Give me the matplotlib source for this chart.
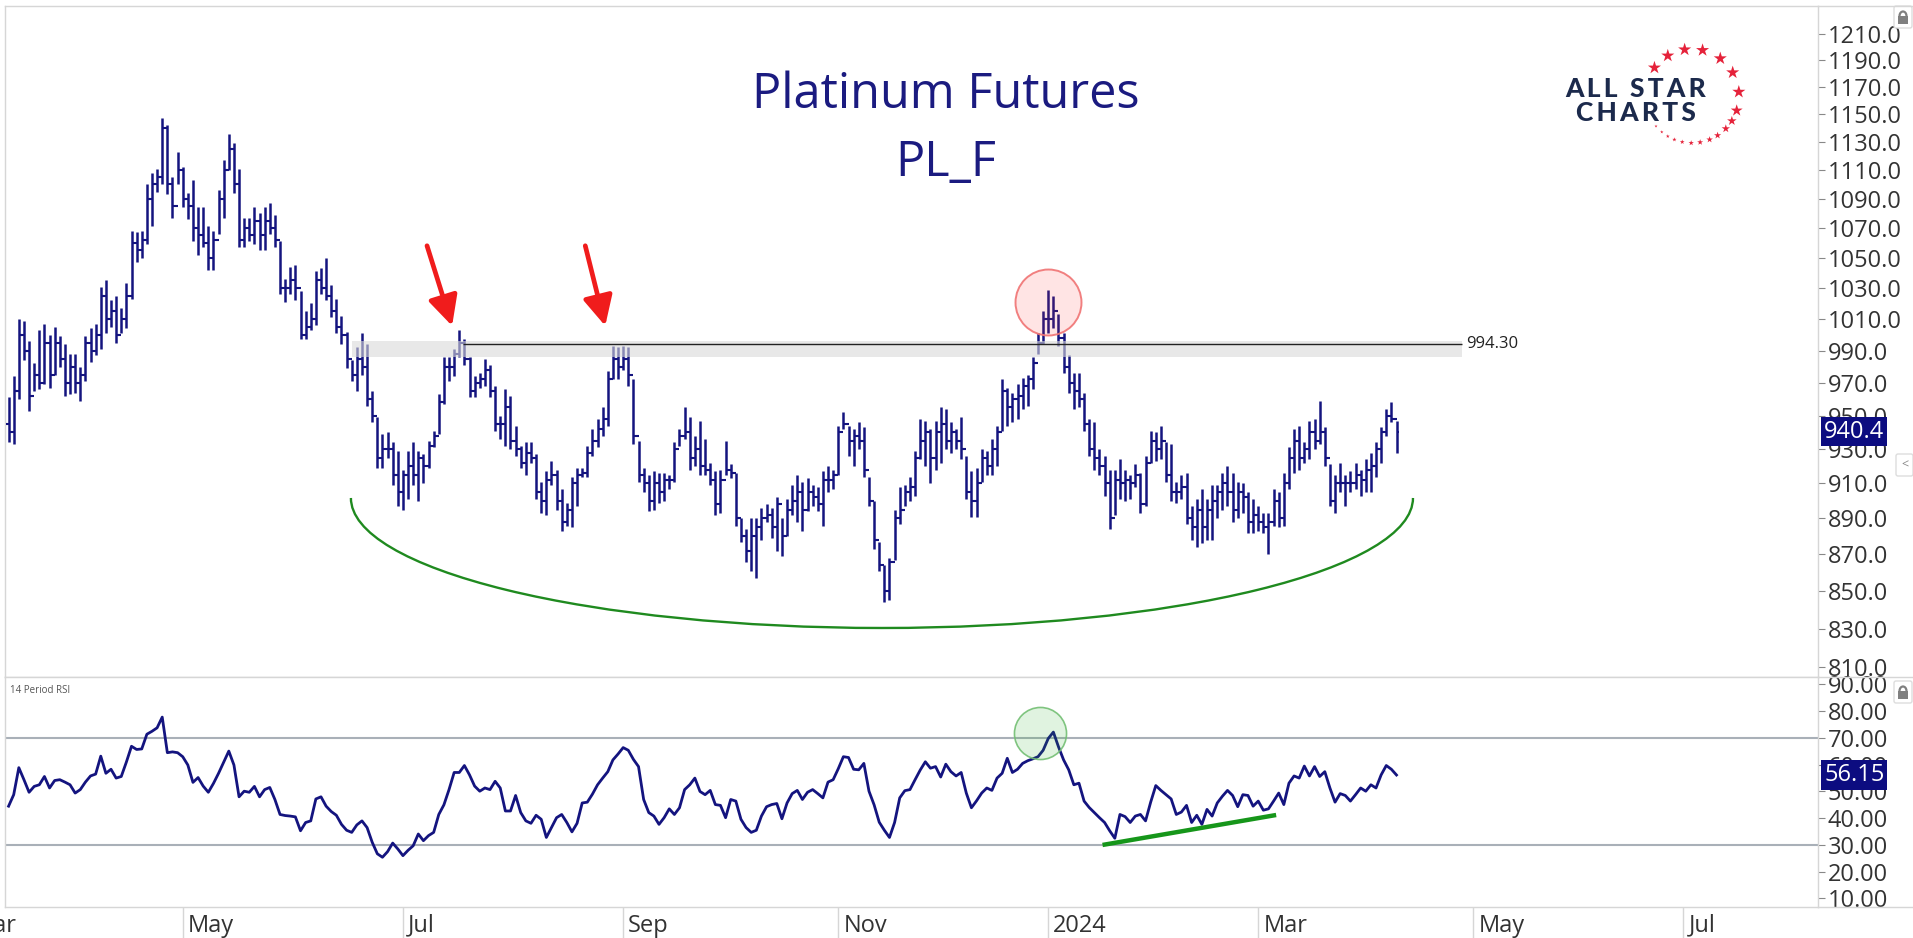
import numpy as np
import pandas as pd
import matplotlib
matplotlib.use('Agg')
import matplotlib.pyplot as plt
from matplotlib import ticker, patches, transforms

# daily bars (first bar 2023-03-13, last 2024-04-08)
high = [961, 974, 1010, 1009, 996, 982, 1003, 1007, 1000, 1005,
        999, 994, 988, 988, 980, 999, 1004, 1007, 1031, 1035,
        1022, 1025, 1017, 1033, 1068, 1067, 1068, 1100, 1108, 1111,
        1147, 1142, 1105, 1123, 1112, 1094, 1103, 1084, 1084, 1071,
        1068, 1096, 1117, 1136, 1129, 1111, 1077, 1077, 1084, 1080,
        1084, 1087, 1079, 1061, 1036, 1044, 1045, 1028, 1015, 1020,
        1041, 1043, 1050, 1032, 1023, 1012, 1002, 984, 992, 1001,
        994, 965, 949, 939, 940, 934, 929, 918, 929, 934,
        929, 927, 935, 941, 963, 986, 986, 991, 1003, 997,
        986, 974, 976, 985, 981, 968, 950, 966, 962, 944,
        932, 934, 934, 927, 911, 917, 923, 918, 907, 899,
        914, 919, 919, 932, 942, 948, 955, 977, 993, 992,
        993, 992, 972, 935, 919, 915, 917, 916, 916, 915,
        934, 942, 955, 949, 938, 947, 936, 922, 917, 918,
        935, 921, 916, 890, 884, 890, 890, 896, 898, 896,
        902, 890, 901, 909, 915, 911, 913, 909, 908, 917,
        920, 918, 944, 952, 944, 942, 946, 943, 914, 900,
        877, 864, 868, 895, 908, 909, 914, 929, 948, 947,
        942, 947, 955, 954, 946, 942, 949, 926, 917, 919,
        930, 929, 936, 944, 972, 967, 964, 969, 973, 975,
        986, 1001, 1015, 1029, 1025, 1013, 1001, 987, 976, 976,
        964, 948, 946, 930, 926, 918, 918, 924, 918, 915,
        921, 916, 926, 941, 940, 944, 934, 933, 911, 915,
        916, 897, 901, 907, 901, 909, 909, 916, 920, 916,
        911, 910, 905, 901, 897, 893, 893, 907, 905, 916,
        931, 942, 944, 934, 947, 948, 959, 943, 921, 915,
        922, 915, 917, 922, 918, 924, 928, 934, 943, 954,
        958, 947]
low = [934, 933, 960, 984, 953, 965, 966, 969, 967, 975,
       980, 962, 963, 964, 959, 971, 983, 987, 991, 1001,
       1005, 995, 1001, 1004, 1023, 1047, 1050, 1059, 1071, 1095,
       1100, 1093, 1077, 1100, 1084, 1076, 1061, 1052, 1057, 1042,
       1042, 1066, 1077, 1110, 1094, 1057, 1057, 1061, 1059, 1055,
       1055, 1066, 1057, 1026, 1021, 1026, 1022, 997, 997, 1003,
       1006, 1026, 1022, 1011, 1001, 994, 979, 971, 965, 975,
       956, 946, 919, 919, 925, 909, 897, 895, 901, 909,
       900, 910, 919, 931, 939, 957, 971, 974, 986, 981,
       961, 961, 967, 968, 961, 941, 936, 932, 930, 926,
       919, 915, 922, 901, 893, 892, 909, 895, 883, 886,
       885, 897, 914, 914, 926, 931, 938, 944, 972, 972,
       978, 968, 933, 911, 905, 894, 895, 899, 900, 907,
       911, 932, 936, 918, 920, 915, 915, 909, 892, 893,
       915, 913, 886, 877, 866, 861, 857, 878, 888, 879,
       872, 869, 880, 892, 888, 883, 894, 897, 894, 886,
       905, 907, 915, 942, 926, 920, 930, 914, 897, 873,
       861, 844, 845, 867, 887, 897, 900, 903, 924, 920,
       910, 918, 922, 930, 928, 930, 924, 901, 891, 891,
       911, 915, 915, 920, 941, 944, 946, 948, 954, 956,
       966, 988, 994, 1001, 1004, 993, 976, 964, 954, 955,
       941, 926, 918, 915, 903, 884, 892, 901, 900, 901,
       908, 893, 897, 922, 923, 924, 911, 900, 899, 901,
       887, 878, 874, 876, 878, 878, 890, 895, 897, 888,
       890, 893, 882, 882, 883, 882, 870, 886, 885, 886,
       907, 916, 918, 922, 924, 930, 933, 920, 897, 893,
       905, 897, 905, 907, 903, 905, 905, 914, 922, 938,
       946, 928]
close = [940, 965, 1000, 990, 962, 975, 970, 995, 975, 995,
         985, 970, 980, 970, 975, 995, 990, 1000, 1025, 1010,
         1015, 1000, 1010, 1025, 1060, 1055, 1062, 1090, 1100, 1105,
         1140, 1100, 1085, 1110, 1090, 1085, 1070, 1065, 1060, 1050,
         1062, 1090, 1110, 1125, 1100, 1062, 1070, 1065, 1075, 1065,
         1075, 1070, 1062, 1030, 1030, 1035, 1030, 1000, 1005, 1010,
         1035, 1030, 1025, 1015, 1005, 1000, 985, 975, 985, 980,
         960, 950, 925, 930, 930, 915, 905, 915, 920, 915,
         925, 920, 932, 938, 958, 980, 980, 988, 995, 985,
         965, 970, 972, 978, 965, 945, 945, 955, 935, 930,
         922, 928, 925, 905, 900, 912, 915, 900, 888, 895,
         910, 915, 916, 928, 935, 942, 948, 972, 985, 980,
         985, 975, 938, 915, 910, 900, 910, 905, 912, 912,
         930, 938, 940, 925, 930, 920, 918, 912, 898, 912,
         918, 916, 890, 880, 872, 880, 885, 890, 892, 885,
         898, 880, 895, 900, 905, 895, 905, 902, 898, 912,
         912, 915, 940, 945, 935, 938, 935, 918, 900, 878,
         864, 850, 866, 890, 895, 905, 908, 925, 935, 940,
         925, 940, 945, 935, 940, 935, 930, 905, 900, 910,
         925, 920, 930, 940, 965, 955, 960, 962, 968, 972,
         982, 995, 1010, 1010, 1015, 998, 980, 970, 965, 960,
         945, 930, 925, 920, 910, 890, 912, 910, 912, 910,
         915, 898, 922, 935, 930, 935, 915, 905, 905, 908,
         890, 885, 895, 885, 895, 900, 905, 910, 905, 895,
         905, 902, 888, 892, 888, 885, 888, 900, 890, 910,
         925, 935, 925, 930, 940, 935, 940, 925, 900, 910,
         910, 910, 910, 915, 912, 918, 920, 930, 940, 950,
         948, 940.4]
first_open = 945

# 14 period RSI
rsi = [44.5, 48.8, 58.9, 54.4, 49.7, 51.9, 52.5, 55.6, 51.3, 54.1,
       54.4, 53.5, 52.5, 49.4, 50.7, 53.5, 55.8, 56.5, 63.2, 56.8,
       58.3, 55.0, 55.6, 61.0, 66.9, 65.7, 65.9, 71.4, 72.5, 73.8,
       77.8, 64.5, 64.8, 64.5, 63.0, 59.9, 53.4, 55.2, 52.0, 49.7,
       53.0, 56.8, 61.0, 65.1, 59.9, 48.0, 50.1, 49.7, 51.9, 48.0,
       50.7, 51.5, 47.0, 41.4, 41.0, 40.8, 40.5, 35.3, 38.4, 39.0,
       47.2, 48.0, 44.5, 42.5, 41.1, 37.7, 35.5, 34.7, 37.5, 39.0,
       36.5, 31.0, 26.7, 25.4, 27.5, 30.7, 28.5, 26.0, 28.0, 29.7,
       34.1, 31.6, 33.5, 34.7, 41.4, 45.0, 50.7, 57.1, 57.1, 59.7,
       56.2, 52.0, 50.1, 51.3, 50.7, 53.8, 51.3, 42.7, 42.7, 48.5,
       42.1, 39.0, 38.1, 41.1, 39.6, 32.8, 36.5, 40.2, 41.4, 38.4,
       34.9, 38.1, 45.7, 46.0, 49.0, 52.5, 55.0, 57.4, 61.8, 64.0,
       66.4, 65.4, 62.0, 59.3, 47.0, 42.1, 40.8, 37.7, 40.2, 43.5,
       41.4, 43.9, 50.7, 52.5, 55.0, 50.0, 48.8, 50.4, 45.1, 44.8,
       40.2, 47.0, 46.4, 39.6, 36.5, 34.7, 35.5, 40.8, 44.3, 45.1,
       45.5, 39.8, 45.7, 49.2, 50.4, 47.0, 49.7, 50.7, 49.2, 47.6,
       53.5, 54.4, 58.5, 63.0, 62.7, 58.3, 58.1, 60.5, 50.1, 45.0,
       38.5, 35.5, 32.8, 38.4, 47.6, 50.3, 50.7, 54.4, 58.0, 61.1,
       58.7, 59.3, 55.4, 60.2, 57.4, 55.8, 57.1, 49.4, 43.9, 46.5,
       49.4, 51.3, 50.4, 55.0, 56.8, 62.4, 57.1, 58.3, 60.5, 61.5,
       62.2, 63.0, 65.4, 69.8, 72.2, 66.7, 61.8, 58.1, 52.5, 53.1,
       46.4, 44.0, 42.1, 40.2, 38.4, 35.3, 32.5, 41.4, 40.6, 38.4,
       40.8, 41.4, 39.0, 46.0, 52.2, 50.4, 48.8, 47.2, 41.4, 42.3,
       44.8, 38.4, 41.1, 37.7, 43.3, 40.8, 45.7, 48.2, 50.4, 48.5,
       44.3, 48.8, 48.5, 44.5, 46.4, 43.0, 43.5, 46.4, 49.4, 45.1,
       53.1, 55.8, 55.0, 59.5, 55.8, 59.3, 55.6, 57.4, 51.3, 46.0,
       49.2, 48.5, 46.4, 48.8, 51.3, 50.1, 52.5, 51.3, 56.2, 59.7,
       58.3, 56.15]

# trading calendar (exchange holidays) for the date axis
first_day = '2023-03-13'
holidays = ['2023-04-07', '2023-05-29', '2023-06-19', '2023-07-04', '2023-09-04',
            '2023-11-23', '2023-12-25', '2024-01-01', '2024-01-15', '2024-02-19',
            '2024-03-29', '2024-05-27', '2024-06-19', '2024-07-04']

# annotations
resist_level = 994.30
band_lo, band_hi = 986.0, 995.7
band_x0, line_x0, band_x1 = 67.1, 88.7, 283.7
arrows = [((81.7, 1058.0), (86.6, 1005.6)), ((112.6, 1058.0), (116.5, 1005.6))]
top_circle = (203.0, 1020.8)
rsi_circle = (201.4, 71.9)
rsi_trend = ([213.6, 247.5], [30.0, 41.2])

NAVY = '#14147f'
GRID = '#d6d6d6'
TXT = '#333333'

plt.rcParams['font.family'] = ['Open Sans', 'DejaVu Sans']

W, H = 1913.0, 938.0
fig = plt.figure(figsize=(W / 100, H / 100), dpi=100)
fig.patch.set_facecolor('white')


def box(x0, y0, x1, y1):
    return [x0 / W, 1 - y1 / H, (x1 - x0) / W, (y1 - y0) / H]


ax = fig.add_axes(box(5, 6, 1818, 677))
ax2 = fig.add_axes(box(5, 677, 1818, 907), sharex=ax)

n = len(close)
x = np.arange(n)
opens = np.r_[first_open, close[:-1]]

#--------------------------------------------------------------------------
# price panel
#--------------------------------------------------------------------------
ax.vlines(x, low, high, color=NAVY, lw=1.8, zorder=3)
ax.hlines(opens, x - 0.55, x, color=NAVY, lw=1.5, zorder=3)
ax.hlines(close, x, x + 0.55, color=NAVY, lw=1.5, zorder=3)

ax.set_yscale('log')
ax.set_ylim(804.9, 1231.7)
ax.yaxis.set_major_locator(ticker.FixedLocator(np.arange(810, 1211, 20)))
ax.yaxis.set_major_formatter(ticker.FormatStrFormatter('%.1f'))
ax.yaxis.set_minor_locator(ticker.NullLocator())
ax.yaxis.tick_right()
ax.tick_params(axis='y', length=5, color='#888888', labelsize=17,
               labelcolor=TXT, pad=2)
ax.tick_params(axis='x', which='both', bottom=False, top=False,
               labelbottom=False)

# resistance band + line
ax.fill_between([band_x0, band_x1], band_lo, band_hi, color=(0.85, 0.85, 0.85),
                alpha=0.6, lw=0, zorder=4)
ax.hlines(resist_level, line_x0, band_x1, color='#222222', lw=1, zorder=5)
ax.text(band_x1 + 0.8, resist_level, '%.2f' % resist_level, fontsize=12,
        va='center', ha='left', color='#222222')

for tail, tip in arrows:
    ax.annotate('', xy=tip, xytext=tail,
                arrowprops=dict(arrowstyle='-|>,head_length=0.9,head_width=0.45',
                                color='#f01c1c', lw=3.4, shrinkA=0, shrinkB=0,
                                mutation_scale=20))

ax.plot(*top_circle, 'o', ms=47.5, mfc=(1, 0.2, 0.2, 0.13),
        mec=(0.94, 0.45, 0.45, 0.9), mew=1.4, zorder=6)

# cup arc drawn in axes fraction
ax.add_patch(patches.Arc((0.4837, 0.2668), 0.5858, 0.3875, theta1=180,
                         theta2=360, transform=ax.transAxes, color='#1f8a1f',
                         lw=1.7))

ax.annotate('%.1f' % close[-1], xy=(1, close[-1]),
            xycoords=('axes fraction', 'data'), xytext=(6, 0),
            textcoords='offset pixels', ha='left', va='center', fontsize=17,
            color='white', annotation_clip=False,
            bbox=dict(boxstyle='square,pad=0.12', fc='#0c0c80', ec='none'))

#--------------------------------------------------------------------------
# rsi panel
#--------------------------------------------------------------------------
ax2.plot(x, rsi, color=NAVY, lw=2.0, zorder=3)
ax2.axhline(70, color='#a9b0b8', lw=1.5, zorder=1)
ax2.axhline(30, color='#a9b0b8', lw=1.5, zorder=1)
ax2.set_ylim(6.8, 92.8)
ax2.yaxis.set_major_locator(ticker.FixedLocator(np.arange(10, 91, 10)))
ax2.yaxis.set_major_formatter(ticker.FormatStrFormatter('%.2f'))
ax2.yaxis.tick_right()
ax2.tick_params(axis='y', length=5, color='#888888', labelsize=17,
                labelcolor=TXT, pad=2)
ax2.plot(*rsi_circle, 'o', ms=37.5, mfc=(0.2, 0.7, 0.2, 0.15),
         mec=(0.45, 0.75, 0.45, 0.9), mew=1.2, zorder=4)
ax2.plot(*rsi_trend, color='#16961a', lw=3.2, solid_capstyle='butt', zorder=5)
ax2.text(0.0028, 0.943, '14 Period RSI', transform=ax2.transAxes, fontsize=7,
         color='#555555', va='center', ha='left')
ax2.annotate('%.2f' % rsi[-1], xy=(1, rsi[-1]),
             xycoords=('axes fraction', 'data'), xytext=(6, 0),
             textcoords='offset pixels', ha='left', va='center', fontsize=17,
             color='white', annotation_clip=False,
             bbox=dict(boxstyle='square,pad=0.12', fc='#0c0c80', ec='none'))

# month ticks on trading-day index
days = pd.bdate_range('2023-03-01', '2024-08-30', freq='C', holidays=holidays)
offset = days.get_loc(pd.Timestamp(first_day))
tick_pos = []
tick_lab = []
prev = None
for i, d in enumerate(days):
    if d.month != prev and d.month % 2 == 1:
        tick_pos.append(i - offset)
        tick_lab.append(str(d.year) if d.month == 1 else d.strftime('%b'))
    prev = d.month

ax2.set_xticks(tick_pos)
# set_xticks widens the view to the Mar 2023 tick, so fix the limits after it
ax2.set_xlim(-0.7, 353.3)
ax2.tick_params(axis='x', length=22, color=GRID, width=1, labelbottom=False)
trans = transforms.blended_transform_factory(ax2.transData, ax2.transAxes)
for t, lab in zip(tick_pos, tick_lab):
    ax2.text(t + 1.0, -0.082, lab, transform=trans, ha='left', va='center',
             fontsize=17, color=TXT, clip_on=False)

for a in (ax, ax2):
    for s in a.spines.values():
        s.set_color(GRID)
        s.set_linewidth(1)

#--------------------------------------------------------------------------
# title, logo and small widgets
#--------------------------------------------------------------------------
fig.text(946 / W, 1 - 95 / H, 'Platinum Futures', ha='center', va='center',
         fontsize=35, color='#1b1b80')
fig.text(946 / W, 1 - 163 / H, 'PL_F', ha='center', va='center',
         fontsize=35, color='#1b1b80')

ov = fig.add_axes([0, 0, 1, 1])
ov.set_xlim(0, W)
ov.set_ylim(H, 0)
ov.axis('off')
ov.patch.set_alpha(0)

for yy in (6, 677, 907):
    ov.plot([1818, W], [yy, yy], color=GRID, lw=1)

ov.text(1636, 89, 'A\u2009L\u2009L  S\u2009T\u2009A\u2009R', family=['Lato', 'DejaVu Sans'],
        weight='black', fontsize=19, color='#1c2a4c', ha='center', va='center')
ov.text(1636, 113, 'C\u2009H\u2009A\u2009R\u2009T\u2009S', family=['Lato', 'DejaVu Sans'],
        weight='black', fontsize=19, color='#1c2a4c', ha='center', va='center')

star_ang = [143, 121, 99, 77, 53, 30, 5, -18, -32, -44, -57, -68, -80, -91,
            -102, -112, -121, -130, -140]
star_px = [11, 11, 11, 11, 11, 11, 11, 10, 8, 7, 6, 5.5, 5, 4.5, 4, 3.6, 3.2, 2.8, 2.5]
cx, cy, r = 1692, 96, 47
ang = np.radians(star_ang)
ov.scatter(cx + r * np.cos(ang), cy - r * np.sin(ang), marker='*',
           s=(np.array(star_px) * 0.9) ** 2, color='#e5223a', lw=0)


def draw_lock(xc, yc):
    ov.add_patch(patches.FancyBboxPatch((xc - 9, yc - 11), 18, 22,
                                        boxstyle='round,pad=0,rounding_size=2',
                                        fc='white', ec='#dddddd', lw=1))
    ov.add_patch(patches.Rectangle((xc - 5, yc - 1), 10, 8, fc='#808080', ec='none'))
    ov.add_patch(patches.Arc((xc, yc - 1), 7, 9, theta1=180, theta2=360,
                             color='#808080', lw=1.6))


draw_lock(1903, 17)
draw_lock(1903, 692)
ov.add_patch(patches.FancyBboxPatch((1896, 454), 17, 22,
                                    boxstyle='round,pad=0,rounding_size=2',
                                    fc='white', ec='#dddddd', lw=1))
ov.text(1905, 465, '<', fontsize=9, color='#888888', ha='center', va='center')

fig.savefig('out.png', dpi=100)
